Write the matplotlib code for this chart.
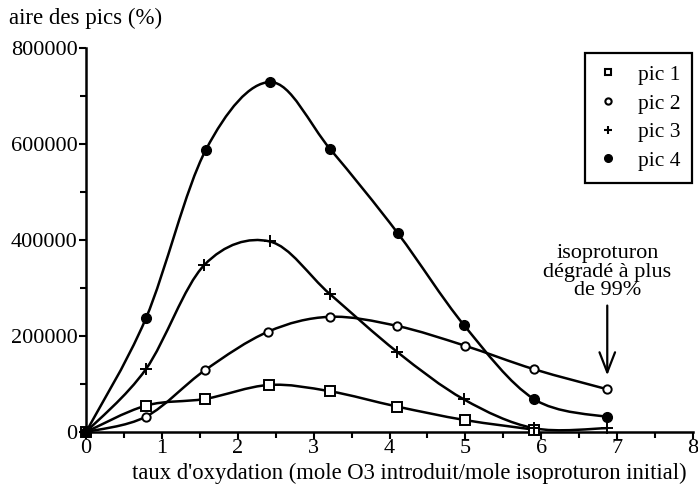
import matplotlib
matplotlib.use("Agg")
import matplotlib.pyplot as plt
from matplotlib.path import Path
from matplotlib.patches import PathPatch
from matplotlib.lines import Line2D
import numpy as np

plt.rcParams['font.family'] = ['Liberation Serif', 'DejaVu Serif']

# Data
x_pic1 = [0.0, 0.79, 1.57, 2.41, 3.21, 4.10, 4.99, 5.90]
y_pic1 = [0, 55000, 69000, 98000, 85000, 53000, 25000, 5000]

x_pic2 = [0.0, 0.79, 1.57, 2.40, 3.21, 4.10, 4.99, 5.90, 6.87]
y_pic2 = [0, 32000, 129000, 209000, 240000, 221000, 180000, 131000, 89000]

x_pic3 = [0.0, 0.79, 1.56, 2.42, 3.21, 4.10, 4.98, 5.90, 6.87]
y_pic3 = [0, 131000, 348000, 397000, 288000, 167000, 68000, 8000, 8000]

x_pic4 = [0.0, 0.79, 1.58, 2.43, 3.22, 4.11, 4.98, 5.90, 6.87]
y_pic4 = [0, 237000, 588000, 729000, 589000, 414000, 223000, 69000, 31000]

labels = ["pic 1", "pic 2", "pic 3", "pic 4"]
x_ticks = [0, 1, 2, 3, 4, 5, 6, 7, 8]
y_ticks = [0, 200000, 400000, 600000, 800000]

fig = plt.figure(figsize=(6.98, 4.90), dpi=100)
ax = fig.add_axes([86/698, 1-432/490, (693-86)/698, (432-48)/490])


def smooth_path(xs, ys):
    pts = np.column_stack([xs, ys]).astype(float)
    n = len(pts)
    verts = [pts[0]]
    codes = [Path.MOVETO]
    for i in range(n - 1):
        p0 = pts[i - 1] if i > 0 else pts[i]
        p1 = pts[i]
        p2 = pts[i + 1]
        p3 = pts[i + 2] if i + 2 < n else pts[i + 1]
        c1 = p1 + (p2 - p0) / 6.0
        c2 = p2 - (p3 - p1) / 6.0
        verts += [c1, c2, p2]
        codes += [Path.CURVE4] * 3
    return Path(verts, codes)


series = [
    (x_pic1, y_pic1, dict(marker='s', ms=6.5, mfc='white', mec='black', mew=1.4)),
    (x_pic2, y_pic2, dict(marker='o', ms=6, mfc='white', mec='black', mew=1.4)),
    (x_pic3, y_pic3, dict(marker='+', ms=8, mec='black', mew=1.4)),
    (x_pic4, y_pic4, dict(marker='o', ms=7, mfc='black', mec='black', mew=1)),
]

for xs, ys, mk in series:
    patch = PathPatch(smooth_path(xs, ys), facecolor='none', edgecolor='black',
                      lw=1.8, clip_on=False, zorder=3)
    ax.add_patch(patch)
    ax.plot(xs, ys, linestyle='none', clip_on=False, zorder=4, **mk)

ax.set_xlim(0, 8)
ax.set_ylim(0, 800000)
ax.set_xticks(x_ticks)
ax.set_xticklabels([str(v) for v in x_ticks])
ax.set_yticks(y_ticks)
ax.set_yticklabels([str(v) for v in y_ticks])
ax.set_xticks(np.arange(0.5, 8, 1.0), minor=True)
ax.set_yticks(np.arange(100000, 800000, 200000), minor=True)
ax.tick_params(axis='both', which='major', direction='out', length=5, width=1.5,
               labelsize=16, colors='black')
ax.tick_params(axis='x', which='major', pad=0)
ax.tick_params(axis='y', which='major', pad=1)
ax.tick_params(axis='both', which='minor', direction='out', length=4, width=1.5)

for s in ['top', 'right']:
    ax.spines[s].set_visible(False)
for s in ['left', 'bottom']:
    ax.spines[s].set_linewidth(1.8)

fig.text(9/698, 1-18/490, "aire des pics (%)", fontsize=16.5, ha='left', va='center')
fig.text(409/698, 1-479/490,
         "taux d'oxydation (mole O3 introduit/mole isoproturon initial)",
         fontsize=16.3, ha='center', va='baseline')

# Legend
handles = [Line2D([], [], linestyle='none', color='black', marker='s', ms=4.5, mfc='white', mew=1.5),
           Line2D([], [], linestyle='none', color='black', marker='o', ms=4.5, mfc='white', mew=1.5),
           Line2D([], [], linestyle='none', color='black', marker='+', ms=6, mew=1.5),
           Line2D([], [], linestyle='none', color='black', marker='o', ms=5.5, mfc='black')]
leg = ax.legend(handles, labels, loc='upper right', bbox_to_anchor=(692/698, 1-53/490),
                bbox_transform=fig.transFigure, fontsize=15.5, frameon=True, fancybox=False,
                edgecolor='black', handlelength=1.0, handletextpad=0.9, labelspacing=0.4,
                borderpad=0.55, borderaxespad=0)
leg.get_frame().set_linewidth(1.6)
leg.get_frame().set_alpha(1)

# Annotation
ax.annotate("isoproturon\ndégradé à plus\nde 99%", xy=(6.87, 118000), xytext=(6.87, 275000),
            ha='center', va='bottom', fontsize=16, linespacing=0.95,
            arrowprops=dict(arrowstyle='->,head_length=0.9,head_width=0.35', lw=1.6,
                            color='black', shrinkA=2, shrinkB=0))

fig.savefig("out.png", dpi=100)
